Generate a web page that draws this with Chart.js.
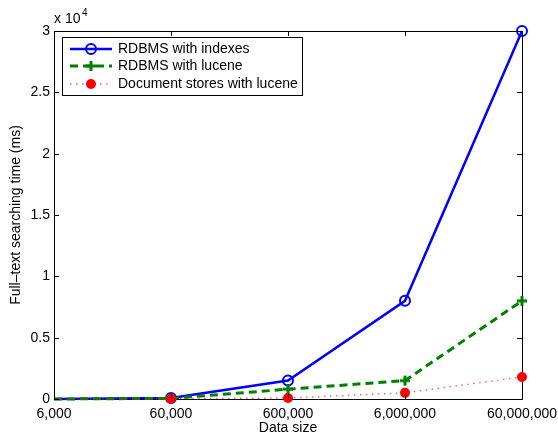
<!DOCTYPE html>
<html>
<head>
<meta charset="utf-8">
<script src="https://cdn.jsdelivr.net/npm/chart.js@4.4.1/dist/chart.umd.min.js"></script>
<style>
    html, body { margin: 0; padding: 0; background: #fff; }
    #wrap { width: 558px; height: 437px; }
</style>
</head>
<body>
<div id="wrap"><canvas id="searchChart" width="558" height="437"></canvas></div>
<script>
// data (ms)
const dataSizes = ['6,000', '60,000', '600,000', '6,000,000', '60,000,000'];
const rdbmsIndexes = [0, 80, 1500, 8000, 30000];
const rdbmsLucene = [0, 50, 800, 1500, 8000];
const docStoresLucene = [0, 20, 80, 500, 1800];
const yTicks = [0, 5000, 10000, 15000, 20000, 25000, 30000];

const seriesNames = ['RDBMS with indexes', 'RDBMS with lucene', 'Document stores with lucene'];
const FONT = "'Liberation Sans', Arial, sans-serif";

// first point has no marker in the original
const hideFirst = (r) => dataSizes.map((_, i) => i === 0 ? 0 : r);

function drawMarker(ctx, kind, x, y) {
    ctx.save();
    ctx.setLineDash([]);
    if (kind === 'circle') {
        ctx.strokeStyle = '#0000ff';
        ctx.lineWidth = 2;
        ctx.beginPath();
        ctx.arc(x, y, 5, 0, Math.PI * 2);
        ctx.stroke();
    } else if (kind === 'cross') {
        ctx.strokeStyle = '#008000';
        ctx.lineWidth = 3;
        ctx.beginPath();
        ctx.moveTo(x - 5, y); ctx.lineTo(x + 5, y);
        ctx.moveTo(x, y - 5); ctx.lineTo(x, y + 5);
        ctx.stroke();
    } else {
        ctx.fillStyle = '#ff0000';
        ctx.beginPath();
        ctx.arc(x, y, 5, 0, Math.PI * 2);
        ctx.fill();
    }
    ctx.restore();
}

const matlabFrame = {
    id: 'matlabFrame',
    beforeDatasetsDraw(chart) {
        const ctx = chart.ctx;
        const a = chart.chartArea;
        ctx.save();
        ctx.strokeStyle = '#000';
        ctx.lineWidth = 1;
        ctx.strokeRect(Math.round(a.left) + 0.5, Math.round(a.top) + 0.5,
            Math.round(a.right - a.left), Math.round(a.bottom - a.top));
        ctx.restore();
    },
    afterDatasetsDraw(chart) {
        const ctx = chart.ctx;
        const a = chart.chartArea;
        const xs = chart.scales.x, ys = chart.scales.y;
        ctx.save();
        ctx.strokeStyle = '#000';
        ctx.lineWidth = 1;
        ctx.setLineDash([]);

        // inward tick marks on all four sides
        const tl = 5;
        ctx.beginPath();
        dataSizes.forEach((_, i) => {
            const px = Math.round(xs.getPixelForValue(i)) + 0.5;
            ctx.moveTo(px, a.bottom); ctx.lineTo(px, a.bottom - tl);
            ctx.moveTo(px, a.top); ctx.lineTo(px, a.top + tl);
        });
        yTicks.forEach(v => {
            const py = Math.round(ys.getPixelForValue(v)) + 0.5;
            ctx.moveTo(a.left, py); ctx.lineTo(a.left + tl, py);
            ctx.moveTo(a.right, py); ctx.lineTo(a.right - tl, py);
        });
        ctx.stroke();

        // exponent label
        ctx.fillStyle = '#000';
        ctx.font = '14px ' + FONT;
        ctx.textBaseline = 'alphabetic';
        ctx.textAlign = 'left';
        ctx.fillText('x 10', a.left, 23);
        ctx.font = '10px ' + FONT;
        ctx.fillText('4', a.left + 28, 16);

        // axis titles
        ctx.font = '14px ' + FONT;
        ctx.textAlign = 'center';
        ctx.textBaseline = 'middle';
        ctx.fillText('Data size', (a.left + a.right) / 2, 428);
        ctx.save();
        ctx.translate(16, (a.top + a.bottom) / 2);
        ctx.rotate(-Math.PI / 2);
        ctx.fillText('Full\u2013text searching time (ms)', 0, 0);
        ctx.restore();

        // legend box
        const bx = 62, by = 37, bw = 240, bh = 58;
        ctx.fillStyle = '#fff';
        ctx.fillRect(bx, by, bw, bh);
        ctx.strokeStyle = '#000';
        ctx.lineWidth = 1;
        ctx.strokeRect(bx + 0.5, by + 0.5, bw, bh);

        const rows = [49, 66, 84];
        const styles = [
            { color: '#0000ff', width: 2.5, dash: [], marker: 'circle' },
            { color: '#008000', width: 3, dash: [8, 5], marker: 'cross' },
            { color: 'rgba(255,0,0,0.6)', width: 1.5, dash: [1.5, 4.5], marker: 'dot' }
        ];
        rows.forEach((ry, i) => {
            const s = styles[i];
            ctx.save();
            ctx.strokeStyle = s.color;
            ctx.lineWidth = s.width;
            ctx.setLineDash(s.dash);
            ctx.beginPath();
            ctx.moveTo(70, ry); ctx.lineTo(112, ry);
            ctx.stroke();
            ctx.restore();
            drawMarker(ctx, s.marker, 91, ry);
            ctx.fillStyle = '#000';
            ctx.font = '14px ' + FONT;
            ctx.textAlign = 'left';
            ctx.textBaseline = 'middle';
            ctx.fillText(seriesNames[i], 118, ry);
        });
        ctx.restore();
    }
};

const crossStyle = (() => {
    const c = document.createElement('canvas');
    c.width = 14; c.height = 14;
    const g = c.getContext('2d');
    g.strokeStyle = '#008000';
    g.lineWidth = 3;
    g.beginPath();
    g.moveTo(2, 7); g.lineTo(12, 7);
    g.moveTo(7, 2); g.lineTo(7, 12);
    g.stroke();
    return c;
})();

// lower order is drawn on top: red over green over blue, as in the original
new Chart(document.getElementById('searchChart'), {
    type: 'line',
    data: {
        labels: dataSizes,
        datasets: [
            {
                label: seriesNames[0],
                data: rdbmsIndexes,
                borderColor: '#0000ff',
                borderWidth: 2.5,
                pointStyle: 'circle',
                pointRadius: hideFirst(5),
                pointBackgroundColor: 'rgba(0,0,0,0)',
                pointBorderColor: '#0000ff',
                pointBorderWidth: 2,
                tension: 0,
                clip: false,
                order: 3
            },
            {
                label: seriesNames[1],
                data: rdbmsLucene,
                borderColor: '#008000',
                borderWidth: 3,
                borderDash: [8, 5],
                pointStyle: dataSizes.map((_, i) => i === 0 ? false : crossStyle),
                pointRadius: hideFirst(5),
                tension: 0,
                clip: false,
                order: 2
            },
            {
                label: seriesNames[2],
                data: docStoresLucene,
                borderColor: 'rgba(255,0,0,0.6)',
                borderWidth: 1.5,
                borderDash: [1.5, 4.5],
                pointStyle: 'circle',
                pointRadius: hideFirst(5),
                pointBackgroundColor: '#ff0000',
                pointBorderColor: '#ff0000',
                pointBorderWidth: 0,
                tension: 0,
                clip: false,
                order: 1
            }
        ]
    },
    plugins: [matlabFrame],
    options: {
        responsive: false,
        animation: false,
        devicePixelRatio: 1,
        layout: { padding: { top: 31, right: 36, left: 0, bottom: 0 } },
        plugins: {
            legend: { display: false },
            tooltip: { enabled: false }
        },
        scales: {
            x: {
                type: 'category',
                offset: false,
                grid: { display: false, drawTicks: false },
                border: { display: false },
                ticks: {
                    color: '#000',
                    font: { family: FONT, size: 14 },
                    padding: 7,
                    maxRotation: 0,
                    autoSkip: false
                },
                afterFit(scale) {
                    scale.height = 38;
                    scale.paddingLeft = 0;
                    scale.paddingRight = 0;
                }
            },
            y: {
                min: 0,
                max: 30000,
                grid: { display: false, drawTicks: false },
                border: { display: false },
                afterBuildTicks(scale) { scale.ticks = yTicks.map(v => ({ value: v })); },
                ticks: {
                    color: '#000',
                    font: { family: FONT, size: 14 },
                    padding: 4,
                    callback: (v) => String(v / 10000)
                },
                afterFit(scale) {
                    scale.width = 54;
                    scale.paddingTop = 0;
                    scale.paddingBottom = 0;
                }
            }
        }
    }
});
</script>
</body>
</html>
